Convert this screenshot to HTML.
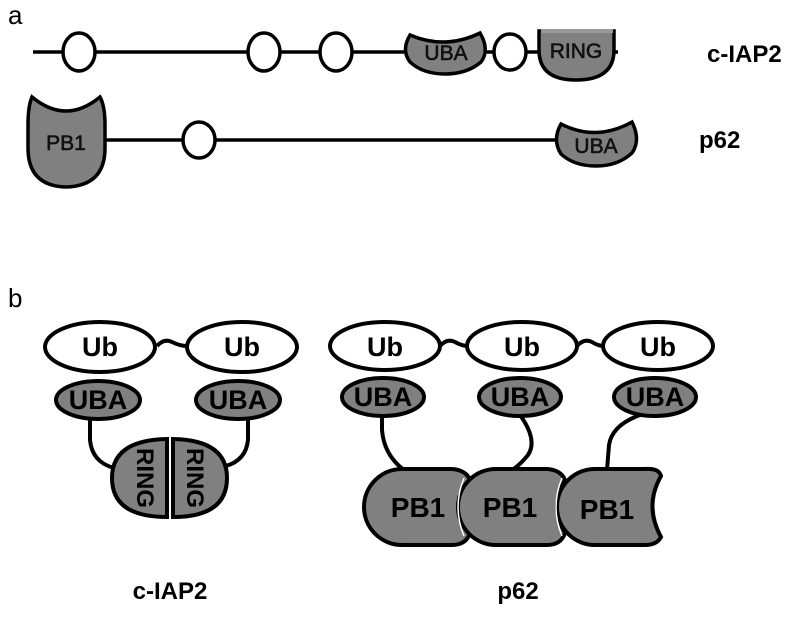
<!DOCTYPE html>
<html><head><meta charset="utf-8"><style>
html,body{margin:0;padding:0;background:#fff}
svg{display:block}
text{font-family:"Liberation Sans",sans-serif}
</style></head><body>
<svg width="800" height="620" viewBox="0 0 800 620" xmlns="http://www.w3.org/2000/svg">
<g stroke="#000" stroke-width="3.5" fill="none">
<line x1="33" y1="52" x2="618" y2="52"/>
<line x1="105" y1="140" x2="559" y2="140"/>
</g>
<g stroke="#000" stroke-width="3.5" fill="#fff">
<ellipse cx="79" cy="52" rx="16" ry="19"/>
<ellipse cx="264" cy="52" rx="16" ry="19"/>
<ellipse cx="336" cy="52" rx="16" ry="19"/>
<ellipse cx="510" cy="52" rx="16" ry="18"/>
<ellipse cx="199" cy="140" rx="16" ry="18"/>
</g>
<g stroke="#000" stroke-width="3.5" fill="#808080">
<path d="M410 35 Q445 50 480 33 Q490 50 481 62 Q467 74 445 74 Q423 74 410 62 Q401 50 410 35 Z"/>
<path d="M539 31 H614 V50 Q614 80 576 80 Q539 80 539 50 Z"/>
<path d="M32 97 Q66 125 100 97 Q105 106 105 125 V148 Q105 186 66 187 Q28 186 28 148 V125 Q28 106 32 97 Z"/>
<path d="M561 124 Q596 142 632 122 Q641 140 632 153 Q618 166 596 166 Q574 166 561 154 Q552 140 561 124 Z"/>
</g>
<rect x="541" y="29" width="72" height="4" fill="#999"/>
<g font-size="21" text-anchor="middle" fill="#111" stroke="#111" stroke-width="0.6">
<text x="446" y="60">UBA</text>
<text x="576" y="58">RING</text>
<text x="66" y="150">PB1</text>
<text x="596" y="153">UBA</text>
</g>
<g font-size="24" font-weight="bold" fill="#000">
<text x="707" y="62">c-IAP2</text>
<text x="699" y="148">p62</text>
</g>
<text x="8" y="24" font-size="26">a</text>
<text x="8" y="307" font-size="26">b</text>

<g stroke="#000" stroke-width="4" fill="none">
<path d="M157 346 Q164 338 172 342 Q180 346 187 346"/>
<path d="M440 346 Q447 338 455 342 Q462 346 468 346"/>
<path d="M577 346 Q584 338 592 342 Q598 346 604 346"/>
<path d="M90 416 V440 Q92 462 114 468"/>
<path d="M248 416 V440 Q246 460 226 466"/>
<path d="M382 415 V430 Q384 455 404 470"/>
<path d="M520 415 Q538 440 528 455 Q520 465 512 470"/>
<path d="M640 415 Q612 425 609 445 L607 470"/>
</g>
<g stroke="#000" stroke-width="4" fill="#fff">
<ellipse cx="100" cy="347" rx="55" ry="25"/>
<ellipse cx="242" cy="347" rx="55" ry="25"/>
<ellipse cx="385" cy="346" rx="55" ry="24"/>
<ellipse cx="522" cy="346" rx="55" ry="24"/>
<ellipse cx="658" cy="346" rx="55" ry="24"/>
</g>
<g stroke="#000" stroke-width="4" fill="#808080">
<ellipse cx="98" cy="400" rx="42" ry="19"/>
<ellipse cx="238" cy="400" rx="42" ry="19"/>
<ellipse cx="383" cy="397" rx="41" ry="19"/>
<ellipse cx="520" cy="397" rx="41" ry="19"/>
<ellipse cx="655" cy="397" rx="41" ry="19"/>
</g>
<g stroke="#000" stroke-width="4" fill="#808080">
<path d="M167 439 Q112 440 112 478 Q112 517 167 517 Z"/>
<path d="M173 439 Q227 440 227 478 Q227 517 173 517 Z"/>
</g>
<g font-size="24" font-weight="bold" text-anchor="middle" fill="#000">
<text transform="translate(145,478) rotate(90)" y="8">RING</text>
<text transform="translate(195,478) rotate(90)" y="8">RING</text>
</g>
<g stroke="#000" stroke-width="4" fill="#808080">
<path d="M402 469 H452 Q466 470 470 480 Q455 506 470 533 Q466 545 452 545 H402 A38 38 0 0 1 402 469 Z"/>
<path d="M496 469 H547 Q561 470 565 480 Q550 506 565 533 Q561 545 547 545 H496 A38 38 0 0 1 496 469 Z"/>
<path d="M595 469 H645 Q659 468 661 476 Q644 506 661 537 Q657 545 645 545 H595 A38 38 0 0 1 595 469 Z"/>
</g>
<g stroke="#fff" stroke-width="1.5" fill="none">
<path d="M464 478 Q452 507 464 536"/>
<path d="M562 478 Q550 507 562 536"/>
</g>
<g font-size="27" font-weight="bold" fill="#000" text-anchor="middle">
<text x="100" y="356">Ub</text>
<text x="242" y="356">Ub</text>
<text x="385" y="356">Ub</text>
<text x="522" y="356">Ub</text>
<text x="658" y="356">Ub</text>
<text x="98" y="409">UBA</text>
<text x="238" y="409">UBA</text>
<text x="383" y="406">UBA</text>
<text x="520" y="406">UBA</text>
<text x="655" y="406">UBA</text>
<text x="418" y="517" font-size="28">PB1</text>
<text x="510" y="517" font-size="28">PB1</text>
<text x="607" y="519" font-size="28">PB1</text>
</g>
<g font-size="24" font-weight="bold" fill="#000" text-anchor="middle">
<text x="170" y="599">c-IAP2</text>
<text x="518" y="599">p62</text>
</g>
</svg>
</body></html>
